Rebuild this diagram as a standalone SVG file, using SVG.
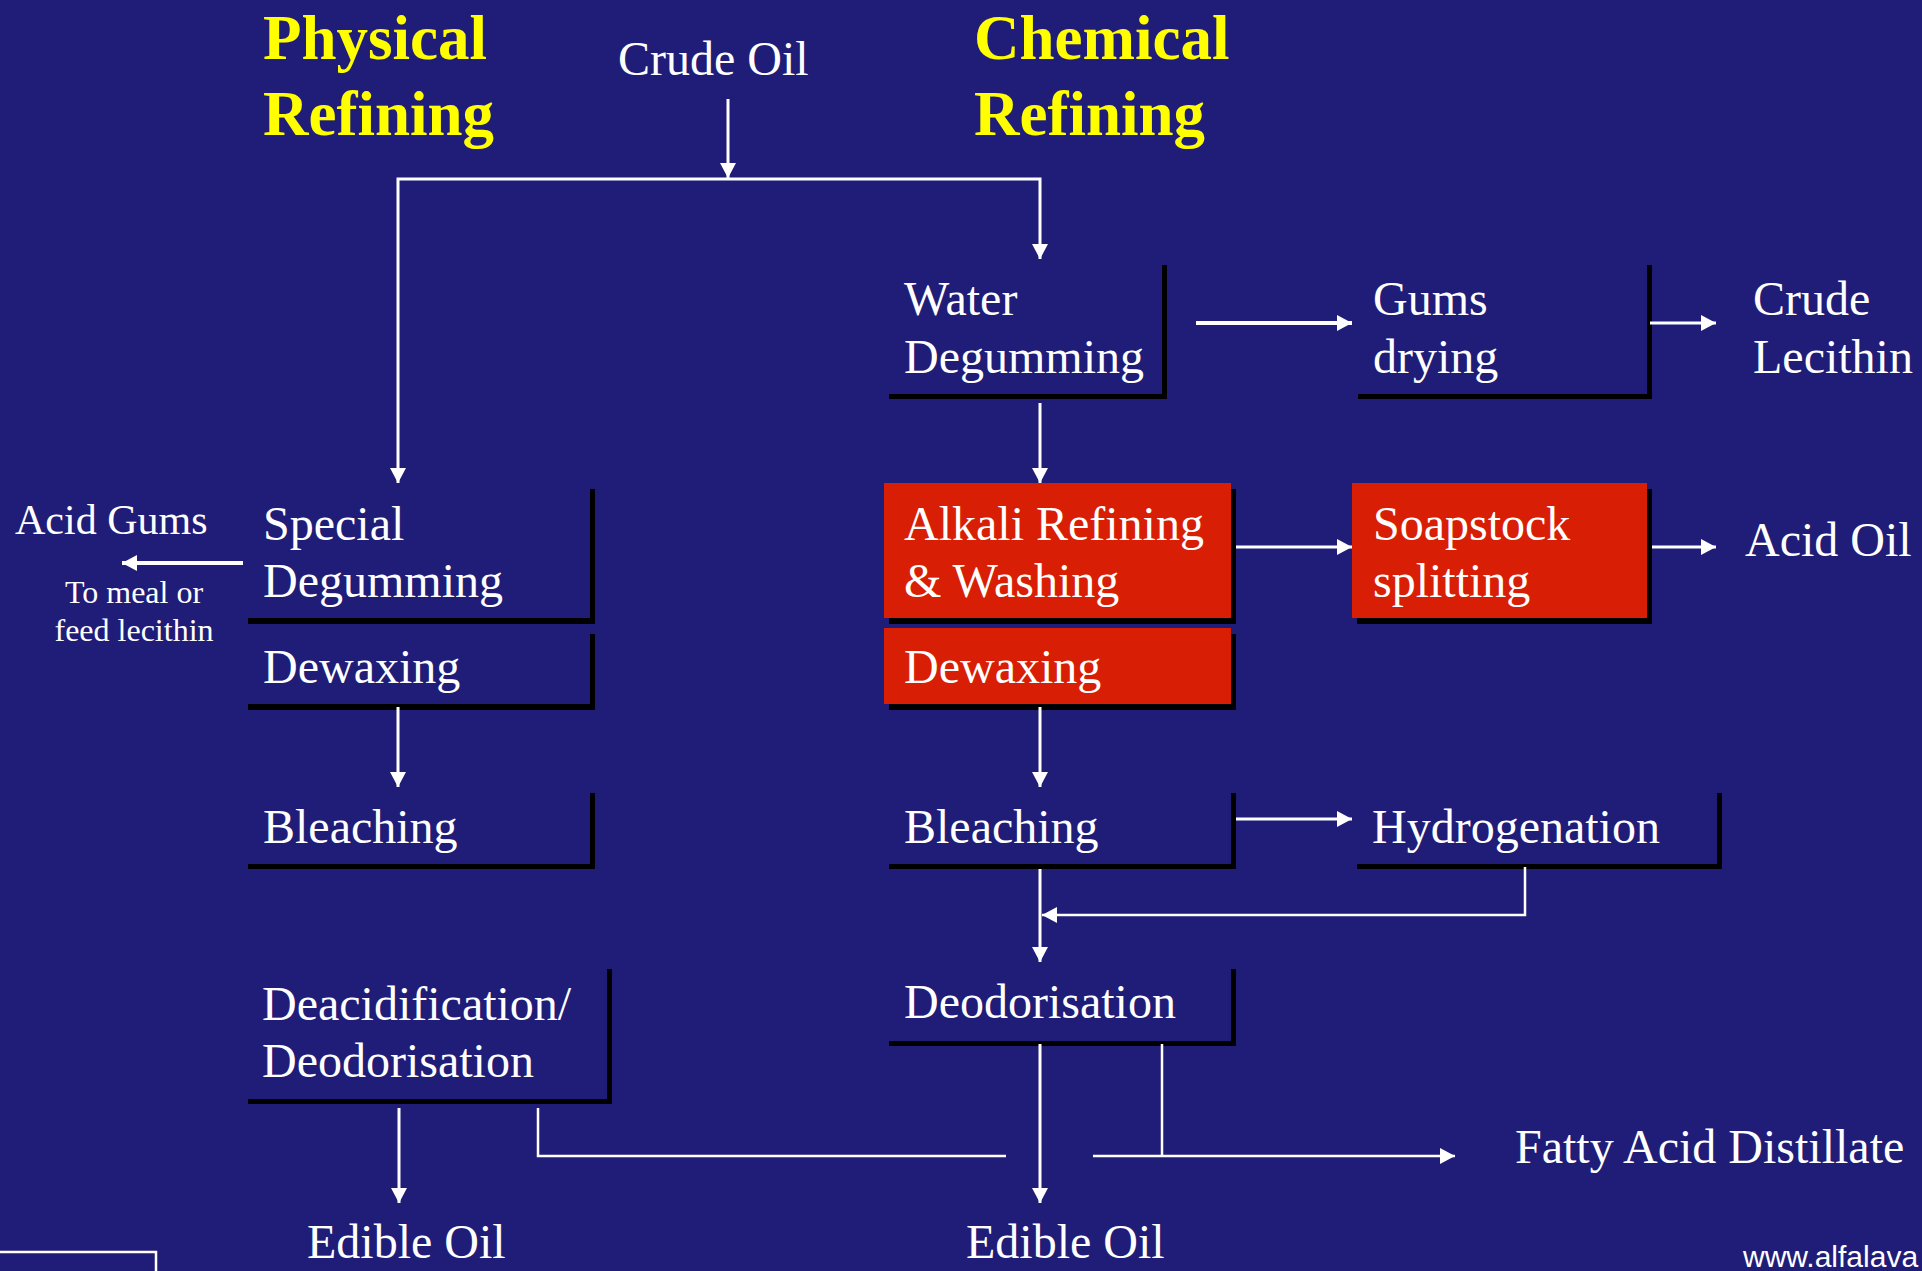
<svg xmlns="http://www.w3.org/2000/svg" width="1922" height="1271" viewBox="0 0 1922 1271">
<style>
.bg{fill:#201d78}
.sh{fill:#000}
.bx{fill:#201d78}
.rd{fill:#d81e05}
.t{font-family:"Liberation Serif","Times New Roman",serif;font-size:48px;fill:#fff}
.ts{font-family:"Liberation Serif","Times New Roman",serif;font-size:42px;fill:#fff}
.tm{font-family:"Liberation Serif","Times New Roman",serif;font-size:32px;fill:#fff;text-anchor:middle}
.ti{font-family:"Liberation Serif","Times New Roman",serif;font-size:63px;font-weight:bold;fill:#ffff00}
.w{font-family:"Liberation Sans",Arial,sans-serif;font-size:30px;fill:#fff}
.c{stroke:#fff;stroke-width:3;fill:none}
.ck{stroke:#fff;stroke-width:4;fill:none}
.cn{stroke:#fff;stroke-width:2.5;fill:none}
</style>
<defs>
<marker id="ah" markerUnits="userSpaceOnUse" markerWidth="17" markerHeight="17" refX="15" refY="8" orient="auto">
<path d="M0,0 L15,8 L0,16 z" fill="#fff"/>
</marker>
</defs>
<rect class="bg" x="0" y="0" width="1922" height="1271"/>

<g id="titles">
<text class="ti" x="263" y="59">Physical</text>
<text class="ti" x="263" y="135">Refining</text>
<text class="ti" x="974" y="59">Chemical</text>
<text class="ti" x="974" y="135">Refining</text>
</g>

<g id="crude-oil"><text class="t" x="618" y="75">Crude Oil</text></g>

<g id="water-degumming">
<rect class="sh" x="889" y="265" width="278" height="134"/>
<rect class="bx" x="884" y="260" width="278" height="134"/>
<text class="t" x="904" y="315">Water</text>
<text class="t" x="904" y="373">Degumming</text>
</g>

<g id="gums-drying">
<rect class="sh" x="1358" y="265" width="294" height="134"/>
<rect class="bx" x="1353" y="260" width="294" height="134"/>
<text class="t" x="1373" y="315">Gums</text>
<text class="t" x="1373" y="373">drying</text>
</g>

<g id="crude-lecithin">
<text class="t" x="1753" y="315">Crude</text>
<text class="t" x="1753" y="373">Lecithin</text>
</g>

<g id="special-degumming">
<rect class="sh" x="248" y="489" width="347" height="135"/>
<rect class="bx" x="243" y="483" width="347" height="135"/>
<text class="t" x="263" y="540">Special</text>
<text class="t" x="263" y="597">Degumming</text>
</g>

<g id="dewaxing-physical">
<rect class="sh" x="248" y="634" width="347" height="76"/>
<rect class="bx" x="243" y="628" width="347" height="76"/>
<text class="t" x="263" y="683">Dewaxing</text>
</g>

<g id="acid-gums">
<text class="ts" x="15" y="534">Acid Gums</text>
<text class="tm" x="134" y="603">To meal or</text>
<text class="tm" x="134" y="641">feed lecithin</text>
</g>

<g id="alkali-refining">
<rect class="sh" x="889" y="489" width="347" height="135"/>
<rect class="rd" x="884" y="483" width="347" height="135"/>
<text class="t" x="904" y="540">Alkali Refining</text>
<text class="t" x="904" y="597">&amp; Washing</text>
</g>

<g id="dewaxing-chemical">
<rect class="sh" x="889" y="634" width="347" height="76"/>
<rect class="rd" x="884" y="628" width="347" height="76"/>
<text class="t" x="904" y="683">Dewaxing</text>
</g>

<g id="soapstock-splitting">
<rect class="sh" x="1357" y="489" width="295" height="135"/>
<rect class="rd" x="1352" y="483" width="295" height="135"/>
<text class="t" x="1373" y="540">Soapstock</text>
<text class="t" x="1373" y="597">splitting</text>
</g>

<g id="acid-oil"><text class="t" x="1745" y="556">Acid Oil</text></g>

<g id="bleaching-physical">
<rect class="sh" x="248" y="793" width="347" height="76"/>
<rect class="bx" x="243" y="788" width="347" height="76"/>
<text class="t" x="263" y="843">Bleaching</text>
</g>

<g id="bleaching-chemical">
<rect class="sh" x="889" y="793" width="347" height="76"/>
<rect class="bx" x="884" y="788" width="347" height="76"/>
<text class="t" x="904" y="843">Bleaching</text>
</g>

<g id="hydrogenation">
<rect class="sh" x="1357" y="793" width="365" height="76"/>
<rect class="bx" x="1352" y="788" width="365" height="76"/>
<text class="t" x="1372" y="843">Hydrogenation</text>
</g>

<g id="deacidification">
<rect class="sh" x="248" y="969" width="364" height="135"/>
<rect class="bx" x="243" y="964" width="364" height="135"/>
<text class="t" x="262" y="1020">Deacidification/</text>
<text class="t" x="262" y="1077">Deodorisation</text>
</g>

<g id="deodorisation">
<rect class="sh" x="889" y="969" width="347" height="77"/>
<rect class="bx" x="884" y="964" width="347" height="77"/>
<text class="t" x="904" y="1018">Deodorisation</text>
</g>

<g id="edible-oil-physical"><text class="t" x="307" y="1258">Edible Oil</text></g>
<g id="edible-oil-chemical"><text class="t" x="966" y="1258">Edible Oil</text></g>
<g id="fatty-acid-distillate"><text class="t" x="1515" y="1163">Fatty Acid Distillate</text></g>

<g id="footer">
<rect x="-10" y="1252" width="166" height="40" fill="none" stroke="#fff" stroke-width="2.5"/>
<text class="w" x="1743" y="1267">www.alfalava</text>
</g>

<g id="connectors">
<line class="c" x1="728" y1="99" x2="728" y2="178" marker-end="url(#ah)"/>
<polyline class="c" points="728,179 398,179 398,483" marker-end="url(#ah)"/>
<polyline class="c" points="728,179 1040,179 1040,259" marker-end="url(#ah)"/>
<line class="ck" x1="1196" y1="323" x2="1352" y2="323" marker-end="url(#ah)"/>
<line class="c" x1="1650" y1="323" x2="1716" y2="323" marker-end="url(#ah)"/>
<line class="c" x1="1040" y1="403" x2="1040" y2="483" marker-end="url(#ah)"/>
<line class="c" x1="1236" y1="547" x2="1352" y2="547" marker-end="url(#ah)"/>
<line class="c" x1="1652" y1="547" x2="1716" y2="547" marker-end="url(#ah)"/>
<line class="ck" x1="243" y1="563" x2="122" y2="563" marker-end="url(#ah)"/>
<line class="c" x1="398" y1="707" x2="398" y2="787" marker-end="url(#ah)"/>
<line class="c" x1="1040" y1="707" x2="1040" y2="787" marker-end="url(#ah)"/>
<line class="c" x1="1236" y1="819" x2="1352" y2="819" marker-end="url(#ah)"/>
<polyline class="cn" points="1525,867 1525,915 1042,915" marker-end="url(#ah)"/>
<line class="c" x1="1040" y1="869" x2="1040" y2="962" marker-end="url(#ah)"/>
<line class="c" x1="1040" y1="1044" x2="1040" y2="1203" marker-end="url(#ah)"/>
<line class="c" x1="399" y1="1108" x2="399" y2="1203" marker-end="url(#ah)"/>
<polyline class="cn" points="538,1108 538,1156 1006,1156"/>
<line class="cn" x1="1162" y1="1044" x2="1162" y2="1156"/>
<line class="cn" x1="1093" y1="1156" x2="1455" y2="1156" marker-end="url(#ah)"/>
</g>
</svg>
